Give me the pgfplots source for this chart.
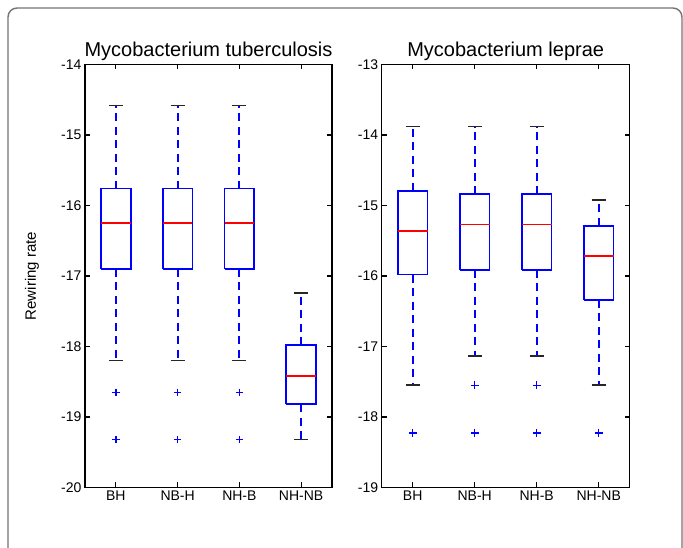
\documentclass[border=0pt]{standalone}
\usepackage{pgfplots}
\pgfplotsset{compat=1.18}
\usepackage{fontspec}
\setmainfont{Liberation Sans}
\definecolor{mblue}{rgb}{0,0,1}
\definecolor{mred}{rgb}{1,0,0}
\definecolor{frame}{rgb}{0.45,0.45,0.45}
\pgfplotsset{
  mybox/.style={
    width=247pt,height=423pt, scale only axis,
    xmin=0.5,xmax=4.5,
    xtick={1,2,3,4}, xticklabels={BH,NB-H,NH-B,NH-NB},
    ytick distance=1,
    tick align=inside, major tick length=5pt,
    tick style={draw=black, line width=1.2pt},
    axis line style={draw=black, line width=1.4pt},
    ticklabel style={font=\fontsize{14}{16}\selectfont},
    /pgf/number format/assume math mode=true,
    title style={font=\fontsize{20}{24}\selectfont, at={(axis description cs:0.5,1)}, anchor=base, yshift=2pt, inner sep=0pt},
    unbounded coords=jump,
  },
  boxs/.style={draw=mblue, line width=1.8pt, no marks},
  meds/.style={draw=mred, line width=1.7pt, no marks},
  whis/.style={draw=mblue, line width=1.8pt, no marks, dash pattern=on 8pt off 5.5pt},
  caps/.style={draw=black!85, line width=1.7pt, no marks},
  outl/.style={only marks, mark=+, mark size=3.8pt, mark options={draw=mblue, solid, line width=1.5pt}},
}
\begin{document}
\begin{tikzpicture}
\useasboundingbox (0,0) rectangle (683pt,548pt);
\draw[draw=frame, line width=1.4pt, rounded corners=9pt] (8pt,-10pt) -- (8pt,540pt) -- (682pt,540pt) -- (682pt,-10pt);

\begin{axis}[mybox, at={(85pt,60.5pt)}, anchor=south west,
  ymin=-20, ymax=-14,
  title={Mycobacterium tuberculosis},
  ylabel={Rewiring rate},
  ylabel style={font=\fontsize{15}{18}\selectfont, at={(axis description cs:-0.2146,0.5)}, anchor=center},
]
% whiskers
\addplot[whis] coordinates {
 (1,-15.76) (1,-14.58) (nan,nan) (1,-16.9) (1,-18.2) (nan,nan)
 (2,-15.76) (2,-14.58) (nan,nan) (2,-16.9) (2,-18.2) (nan,nan)
 (3,-15.76) (3,-14.58) (nan,nan) (3,-16.9) (3,-18.2) (nan,nan)
 (4,-17.98) (4,-17.24) (nan,nan) (4,-18.82) (4,-19.32)};
% caps
\addplot[caps] coordinates {
 (0.885,-14.58) (1.115,-14.58) (nan,nan) (0.885,-18.2) (1.115,-18.2) (nan,nan)
 (1.885,-14.58) (2.115,-14.58) (nan,nan) (1.885,-18.2) (2.115,-18.2) (nan,nan)
 (2.885,-14.58) (3.115,-14.58) (nan,nan) (2.885,-18.2) (3.115,-18.2) (nan,nan)
 (3.885,-17.24) (4.115,-17.24) (nan,nan) (3.885,-19.32) (4.115,-19.32)};
% boxes
\addplot[boxs] coordinates {
 (0.76,-16.9) (1.24,-16.9) (1.24,-15.76) (0.76,-15.76) (0.76,-16.9) (nan,nan)
 (1.76,-16.9) (2.24,-16.9) (2.24,-15.76) (1.76,-15.76) (1.76,-16.9) (nan,nan)
 (2.76,-16.9) (3.24,-16.9) (3.24,-15.76) (2.76,-15.76) (2.76,-16.9) (nan,nan)
 (3.76,-18.82) (4.24,-18.82) (4.24,-17.98) (3.76,-17.98) (3.76,-18.82)};
% medians
\addplot[meds] coordinates {
 (0.76,-16.25) (1.24,-16.25) (nan,nan)
 (1.76,-16.25) (2.24,-16.25) (nan,nan)
 (2.76,-16.25) (3.24,-16.25) (nan,nan)
 (3.76,-18.42) (4.24,-18.42)};
% outliers
\addplot[outl] coordinates {(1,-18.65) (1,-19.32) (2,-18.65) (2,-19.32) (3,-18.65) (3,-19.32)};
\end{axis}

\begin{axis}[mybox, at={(381.7pt,60.5pt)}, anchor=south west, width=248pt,
  ymin=-19, ymax=-13,
  title={Mycobacterium leprae},
]
\addplot[whis] coordinates {
 (1,-14.79) (1,-13.88) (nan,nan) (1,-15.98) (1,-17.55) (nan,nan)
 (2,-14.84) (2,-13.88) (nan,nan) (2,-15.91) (2,-17.13) (nan,nan)
 (3,-14.84) (3,-13.88) (nan,nan) (3,-15.91) (3,-17.13) (nan,nan)
 (4,-15.29) (4,-14.92) (nan,nan) (4,-16.34) (4,-17.55)};
\addplot[caps] coordinates {
 (0.885,-13.88) (1.115,-13.88) (nan,nan) (0.885,-17.55) (1.115,-17.55) (nan,nan)
 (1.885,-13.88) (2.115,-13.88) (nan,nan) (1.885,-17.13) (2.115,-17.13) (nan,nan)
 (2.885,-13.88) (3.115,-13.88) (nan,nan) (2.885,-17.13) (3.115,-17.13) (nan,nan)
 (3.885,-14.92) (4.115,-14.92) (nan,nan) (3.885,-17.55) (4.115,-17.55)};
\addplot[boxs] coordinates {
 (0.76,-15.98) (1.24,-15.98) (1.24,-14.79) (0.76,-14.79) (0.76,-15.98) (nan,nan)
 (1.76,-15.91) (2.24,-15.91) (2.24,-14.84) (1.76,-14.84) (1.76,-15.91) (nan,nan)
 (2.76,-15.91) (3.24,-15.91) (3.24,-14.84) (2.76,-14.84) (2.76,-15.91) (nan,nan)
 (3.76,-16.34) (4.24,-16.34) (4.24,-15.29) (3.76,-15.29) (3.76,-16.34)};
\addplot[meds] coordinates {
 (0.76,-15.36) (1.24,-15.36) (nan,nan)
 (1.76,-15.27) (2.24,-15.27) (nan,nan)
 (2.76,-15.27) (3.24,-15.27) (nan,nan)
 (3.76,-15.72) (4.24,-15.72)};
\addplot[outl] coordinates {(1,-18.23) (2,-17.55) (2,-18.23) (3,-17.55) (3,-18.23) (4,-18.23)};
\end{axis}
\end{tikzpicture}
\end{document}
